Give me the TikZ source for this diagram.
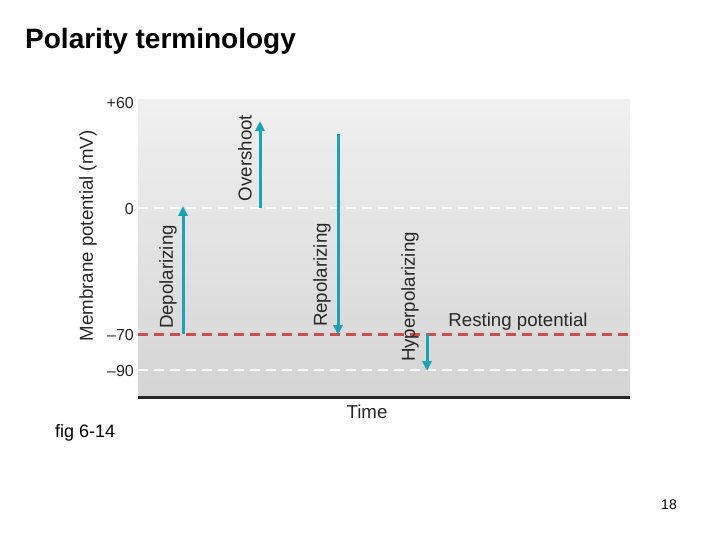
\documentclass[tikz,border=0pt]{standalone}
\usepackage{fontspec}
\setmainfont{Liberation Sans}
\usetikzlibrary{arrows.meta}
\definecolor{teal1}{RGB}{27,162,182}
\definecolor{redd}{RGB}{200,78,78}
\definecolor{bgtop}{RGB}{240,240,240}
\definecolor{bgbot}{RGB}{212,212,212}
\definecolor{txt}{RGB}{40,40,40}
\tikzset{
  lbl/.style={font=\fontsize{18.7}{21}\selectfont, inner sep=0pt, text=txt},
  tick/.style={font=\fontsize{16}{18}\selectfont, anchor=east, inner sep=0pt, text=txt},
  varrow/.style={teal1, line width=3pt, -{Triangle[length=10pt,width=9pt]}},
  wgrid/.style={white, line width=2.4pt, dash pattern=on 10pt off 6pt},
  rgrid/.style={redd, line width=3pt, dash pattern=on 10pt off 6pt},
}
\begin{document}
\begin{tikzpicture}[x=1pt,y=-1pt]
\useasboundingbox (0,0) rectangle (720,540);
\shade[top color=bgtop, bottom color=bgbot] (138,100) rectangle (630,397);
\draw[line width=3pt, black!85] (138,397) -- (630,397);
% grid lines
\coordinate (z0) at (138,208); \coordinate (z1) at (630,208);
\coordinate (r0) at (138,334); \coordinate (r1) at (630,334);
\coordinate (h0) at (138,370); \coordinate (h1) at (630,370);
\draw[wgrid] (z0) -- (z1);
\draw[rgrid] (r0) -- (r1);
\draw[wgrid] (h0) -- (h1);
% ticks
\node[tick] (t60) at (134,103) {+60};
\node[tick] (t0) at (134,209) {0};
\node[tick] (t70) at (134,335) {\char"2013 70};
\node[tick] (t90) at (134,371) {\char"2013 90};
% axis labels
\node[lbl, rotate=90] (ylab) at (88,236) {Membrane potential (mV)};
\node[lbl] (xlab) at (367,412) {Time};
% arrows
\coordinate (d0) at (183,334); \coordinate (d1) at (183,206);
\draw[varrow] (d0) -- (d1);
\node[lbl, rotate=90] (dl) at (168,277) {Depolarizing};
\coordinate (o0) at (260,208); \coordinate (o1) at (260,121);
\draw[varrow] (o0) -- (o1);
\node[lbl, rotate=90] (ol) at (245,158) {Overshoot};
\coordinate (p0) at (338,134); \coordinate (p1) at (338,335);
\draw[varrow] (p0) -- (p1);
\node[lbl, rotate=90] (pl) at (322,275) {Repolarizing};
\coordinate (y0) at (427,334); \coordinate (y1) at (427,371);
\draw[varrow] (y0) -- (y1);
\node[lbl, rotate=90] (yl) at (410,297) {Hyperpolarizing};
\node[lbl] (rest) at (518,322) {Resting potential};
% title etc
\node[font=\fontsize{28}{32}\selectfont\bfseries, anchor=west, inner sep=0pt] (title) at (25,41) {Polarity terminology};
\node[font=\fontsize{18}{21}\selectfont, anchor=west, inner sep=0pt] (fig) at (55,433) {fig 6-14};
\node[font=\fontsize{14}{16}\selectfont, inner sep=0pt] (pg) at (669,505) {18};
\end{tikzpicture}
\end{document}
